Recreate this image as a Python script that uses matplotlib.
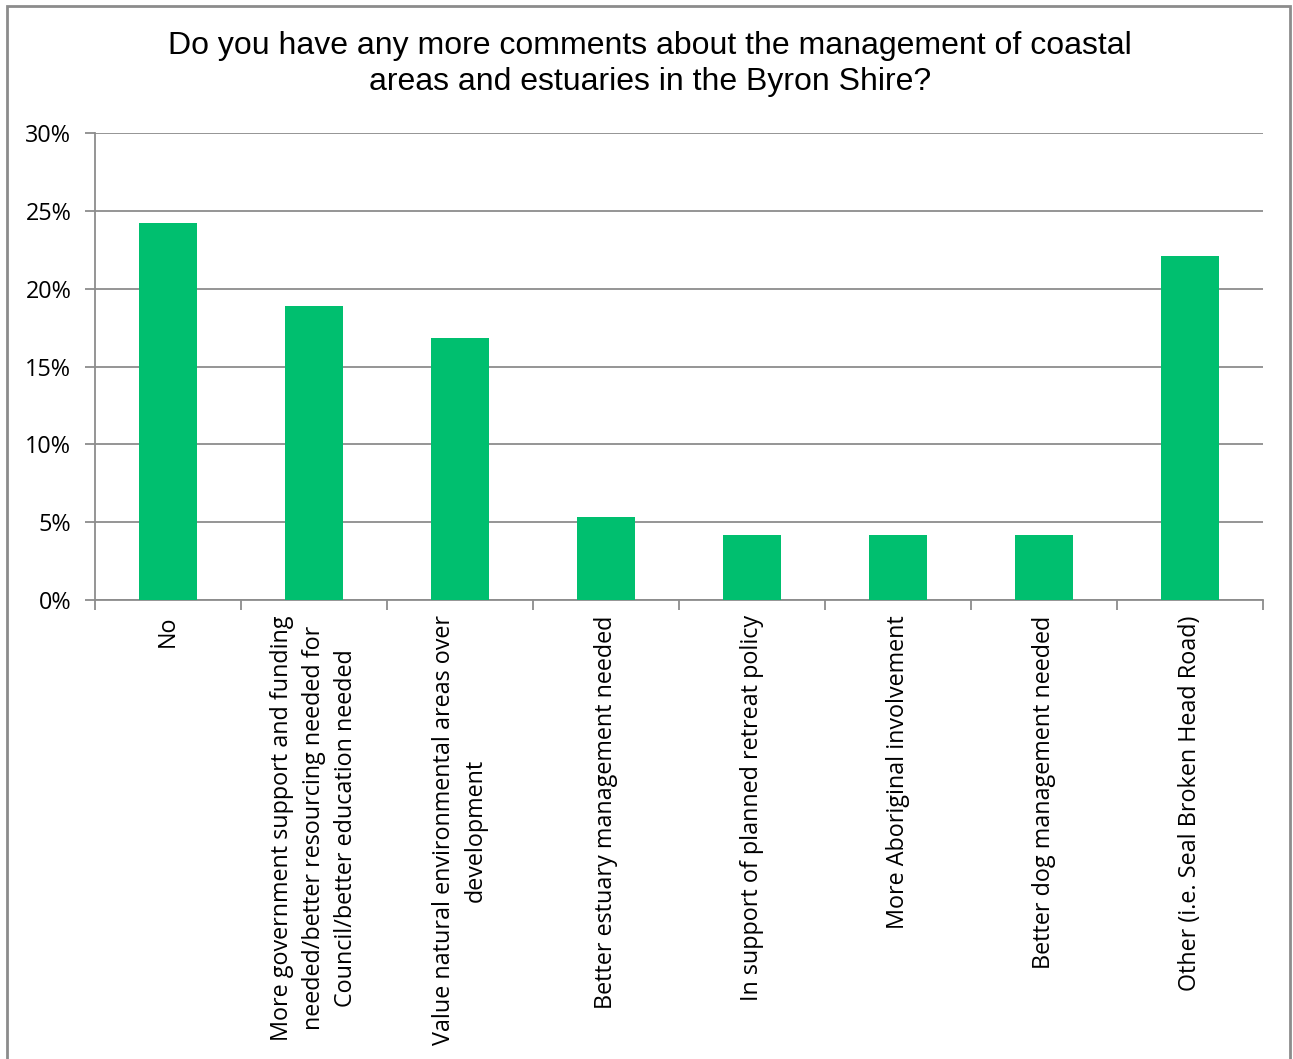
import matplotlib
matplotlib.use("Agg")
import matplotlib.pyplot as plt
from matplotlib.patches import Rectangle
from matplotlib.ticker import FixedLocator, FuncFormatter
import numpy as np

title = ("Do you have any more comments about the management of coastal\n"
         "areas and estuaries in the Byron Shire?")

categories = [
    "No",
    "More government support and funding\nneeded/better resourcing needed for\nCouncil/better education needed",
    "Value natural environmental areas over\ndevelopment",
    "Better estuary management needed",
    "In support of planned retreat policy",
    "More Aboriginal involvement",
    "Better dog management needed",
    "Other (i.e. Seal Broken Head Road)",
]
values = [24.2, 18.9, 16.8, 5.3, 4.2, 4.2, 4.2, 22.1]
yticks = [0, 5, 10, 15, 20, 25, 30]

bar_color = "#00BF6F"
grid_color = "#8C8C8C"

W, H = 1293, 1059
fig = plt.figure(figsize=(W / 100, H / 100), dpi=100)

# chart border (bottom edge falls outside the image)
fig.patches.append(Rectangle((7 / W, -0.01), (1290 - 7) / W, 1.01 - 6 / H,
                             transform=fig.transFigure, fill=False,
                             edgecolor="#8C8C8C", linewidth=2))

ax = fig.add_axes([95 / W, 1 - 600 / H, (1263 - 95) / W, (600 - 133) / H])

x = np.arange(len(categories))
ax.bar(x, values, width=0.4, color=bar_color, zorder=3)

ax.set_xlim(-0.5, len(categories) - 0.5)
ax.set_ylim(0, 30)
ax.set_yticks(yticks)
ax.yaxis.set_major_formatter(FuncFormatter(lambda v, p: f"{v:.0f}%"))
ax.grid(axis="y", color=grid_color, linewidth=1.3, zorder=0)

# category labels at bar centres, ticks between categories
ax.set_xticks(x)
ax.set_xticklabels(categories, rotation=90, va="top", ha="center",
                   fontsize=16.8, family="Open Sans", linespacing=1.45)
ax.tick_params(axis="x", which="major", length=0, pad=11)
ax.xaxis.set_minor_locator(FixedLocator(np.arange(-0.5, len(categories), 1.0)))
ax.tick_params(axis="x", which="minor", length=7, width=1.3, color=grid_color)
ax.tick_params(axis="y", length=7, width=1.3, color=grid_color, pad=10,
               labelsize=16.8)
for lbl in ax.get_yticklabels():
    lbl.set_family("Open Sans")

for side in ["top", "right"]:
    ax.spines[side].set_visible(False)
for side in ["left", "bottom"]:
    ax.spines[side].set_color(grid_color)
    ax.spines[side].set_linewidth(1.3)

fig.text(650 / W, 1 - 64 / H, title, ha="center", va="center",
         fontsize=23, family="Liberation Sans", linespacing=1.25)

fig.savefig("out.png", dpi=100)
